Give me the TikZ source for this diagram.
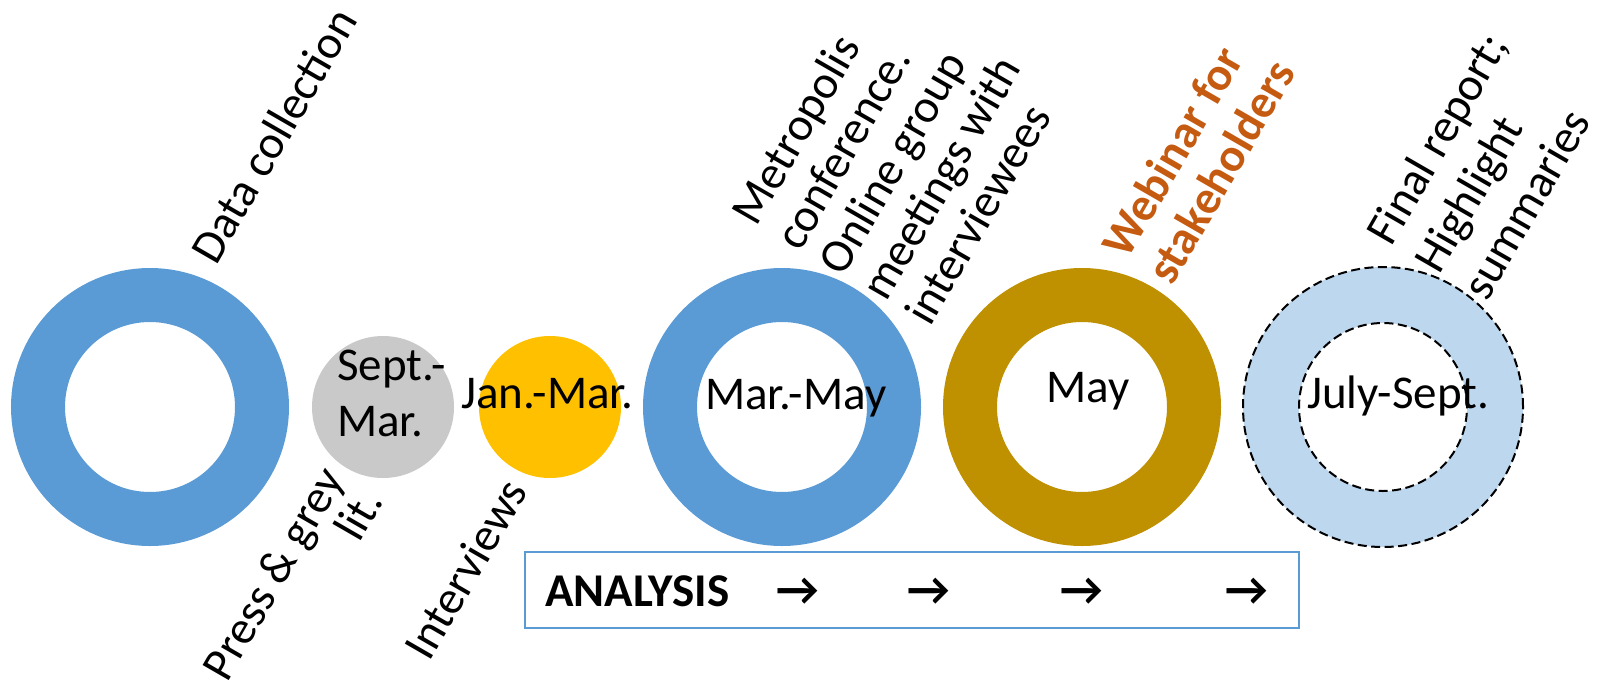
\documentclass[tikz,border=0pt]{standalone}
\usepackage{fontspec}
\setmainfont{Carlito}
\definecolor{ringblue}{HTML}{5B9BD5}
\definecolor{discgrey}{HTML}{C9C9C9}
\definecolor{discyellow}{HTML}{FFC000}
\definecolor{ringgold}{HTML}{BF9000}
\definecolor{paleblue}{HTML}{BDD7EE}
\definecolor{webinar}{HTML}{C55A11}
\begin{document}
\begin{tikzpicture}[x=1pt,y=-1pt,
  lbl/.style={inner sep=0pt, font=\fontsize{47}{56}\selectfont},
  boldlbl/.style={inner sep=0pt, font=\fontsize{47}{56}\selectfont\bfseries},
  slant/.style={inner sep=0pt, rotate=60, font=\fontsize{47}{#1}\selectfont},
  slant/.default=50,
  slantbold/.style={inner sep=0pt, rotate=60, font=\fontsize{47}{#1}\selectfont\bfseries},
  ring/.style={circle, inner sep=0pt, line width=54pt, minimum size=224pt},
  disc/.style={circle, inner sep=0pt, minimum size=142pt},
  dashring/.style={circle, inner sep=0pt, draw=black, line width=2pt,
    dash pattern=on 9pt off 4.5pt},
]
\useasboundingbox (0,0) rectangle (1606,691);

% timeline circles
\node[ring, draw=ringblue] (dc) at (150,407) {};
\node[disc, fill=discgrey] (press) at (383,407) {};
\node[disc, fill=discyellow] (intv) at (550,407) {};
\node[ring, draw=ringblue] (metro) at (782,407) {};
\node[ring, draw=ringgold] (web) at (1082,407) {};
\node[dashring, fill=paleblue, minimum size=280pt] (final) at (1383,407) {};
\node[dashring, fill=white, minimum size=168pt] (finalin) at (final.center) {};

% period labels
\node[lbl, align=left, anchor=west] (pressdate) at (337,393.5) {Sept.-\\Mar.};
\node[lbl, anchor=base west] (intvdate) at (461,408) {Jan.-Mar.};
\node[lbl, anchor=base west] (metrodate) at (705,409) {Mar.-May};
\node[lbl, anchor=base west] (webdate) at (1046,402) {May};
\node[lbl, anchor=base west] (finaldate) at (1307,408) {July-Sept.};

% slanted activity labels
\node[slant] (dctext) at (273.5,135.5) {Data collection};
\node[slant] (intvtext) at (465.5,569) {Interviews};
\node[slant=45, align=right, anchor=east] (presstext) at (351,482) {Press \& grey\\lit.};
\node[slant=50, align=left, anchor=west] (metrotext) at (829.5,270)
  {Metropolis\\conference.\\Online group\\meetings with\\interviewees};
\node[slantbold=52, text=webinar, align=left, anchor=west] (webtext) at (1136,266)
  {Webinar for\\stakeholders};
\node[slant=55, align=left, anchor=west] (finaltext) at (1425.5,267.5)
  {Final report;\\Highlight\\summaries};

% analysis bar
\node[draw=ringblue, line width=2pt, minimum width=774pt, minimum height=76pt, inner sep=0pt]
  (analysis) at (911.5,590.3) {};
\node[boldlbl, anchor=base west] (analysislbl) at (545,606) {ANALYSIS};
\node[boldlbl] (arr1) at (797.5,591.5) {→};
\node[boldlbl] (arr2) at (929,591.5) {→};
\node[boldlbl] (arr3) at (1082,591.5) {→};
\node[boldlbl] (arr4) at (1247,591.5) {→};
\end{tikzpicture}
\end{document}
